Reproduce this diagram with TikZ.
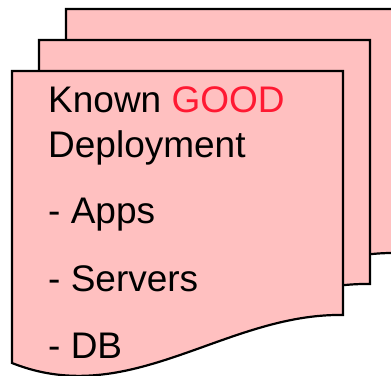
\documentclass[tikz,border=0pt]{standalone}
\usepackage{fontspec}
\setmainfont{Liberation Sans}
\definecolor{pagepink}{RGB}{255,192,192}
\definecolor{goodred}{RGB}{255,25,50}

\begin{document}
\begin{tikzpicture}[x=1pt,y=-1pt,
    docpage/.style={fill=pagepink,draw=black,line width=2.2pt,line join=miter},
    doctext/.style={anchor=base west,inner sep=0pt,font=\fontsize{37}{44}\selectfont}]
    {
    \def\pageshape{(12,71) -- (343,71) -- (343,315) .. controls (225,313) and (130,410) .. (12,363) -- cycle}

    \useasboundingbox (0,0) rectangle (391,375);
    \clip (0,0) rectangle (391,375);

    % stack of pages, back one first
    \foreach \s in {2,1,0}{
        \begin{scope}[shift={(27*\s,-31*\s)}]
            \path[docpage] \pageshape;
        \end{scope}
    }

    \node[doctext] (known) at (48,112) {Known \textcolor{goodred}{GOOD}};
    \node[doctext] (deploy) at (48,157) {Deployment};
    \node[doctext] (apps) at (48,223) {- Apps};
    \node[doctext] (servers) at (48,291) {- Servers};
    \node[doctext] (db) at (48,358) {- DB};
}
\end{tikzpicture}
\end{document}
